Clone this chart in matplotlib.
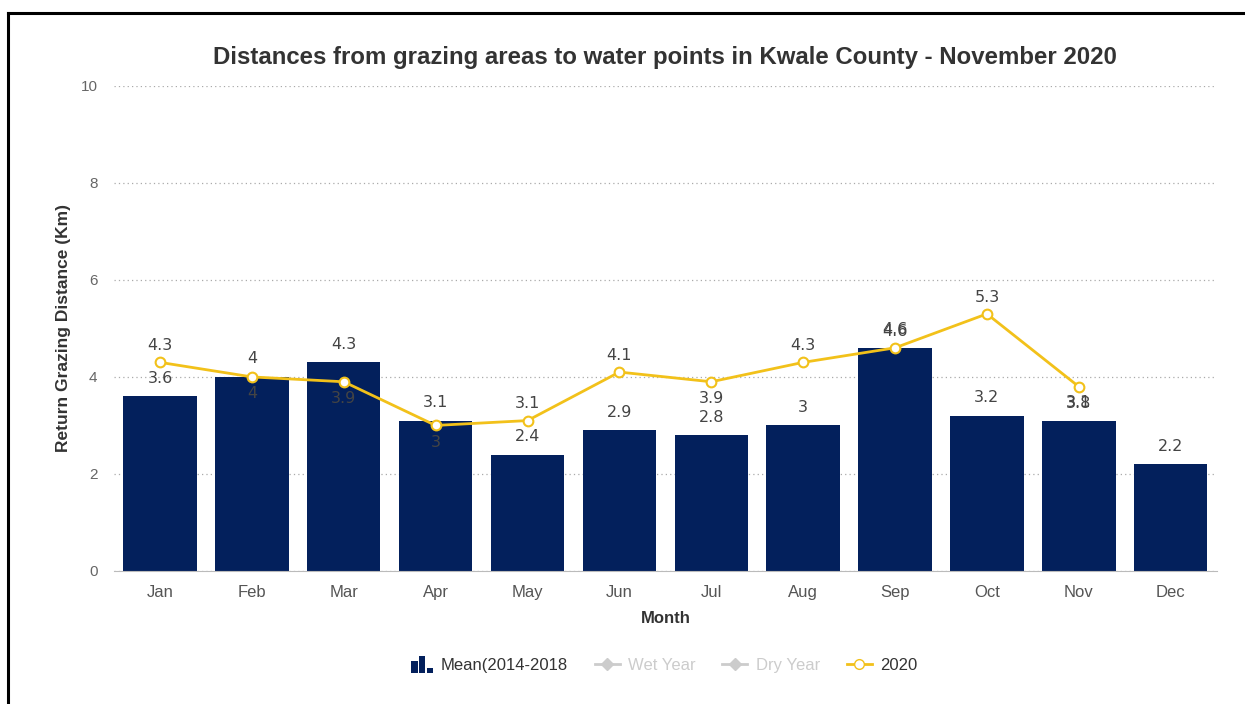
import matplotlib
matplotlib.use("Agg")
import matplotlib.pyplot as plt
from matplotlib.lines import Line2D
from matplotlib.patches import Patch, Rectangle
from matplotlib.legend_handler import HandlerBase
import numpy as np

plt.rcParams['font.family'] = ['Liberation Sans', 'DejaVu Sans']

months = ['Jan', 'Feb', 'Mar', 'Apr', 'May', 'Jun', 'Jul', 'Aug', 'Sep', 'Oct', 'Nov', 'Dec']
mean_2014_2018 = [3.6, 4, 4.3, 3.1, 2.4, 2.9, 2.8, 3, 4.6, 3.2, 3.1, 2.2]
wet_year = []
dry_year = []
y2020 = [4.3, 4, 3.9, 3, 3.1, 4.1, 3.9, 4.3, 4.6, 5.3, 3.8]
y2020_labels = ['4.3', '4', '3.9', '3', '3.1', '4.1', '3.9', '4.3', '4.6', '5.3', '3.8']

# where the 2020 labels sit relative to the point (+ above, - below)
y2020_label_side = [1, -1, -1, -1, 1, 1, -1, 1, 1, 1, -1]

bar_color = '#03205c'
line_color = '#f2c11a'
text_color = '#333333'


class BarIconHandler(HandlerBase):
    # little column-chart icon like the one in the legend
    def create_artists(self, legend, orig_handle, xdescent, ydescent, width, height,
                       fontsize, trans):
        arts = []
        w = width / 4.0
        for k, h in enumerate([0.8, 1.15, 0.35]):
            r = Rectangle((-xdescent + width * 0.15 + k * w * 1.25, -ydescent - 2), w,
                          (height + 2) * h, facecolor=orig_handle.get_facecolor(),
                          edgecolor='none', transform=trans)
            arts.append(r)
        return arts


fig = plt.figure(figsize=(12.45, 7.04), dpi=100)
ax = fig.add_axes([0.0916, 0.189, 0.8856, 0.689])

x = np.arange(len(months))
ax.bar(x, mean_2014_2018, width=0.8, color=bar_color, zorder=2)
x20 = np.arange(len(y2020))
ax.plot(x20, y2020, color=line_color, lw=2, marker='o', markersize=7,
        markerfacecolor='white', markeredgecolor=line_color, markeredgewidth=1.5, zorder=4)

# data labels
for i, v in enumerate(mean_2014_2018):
    ax.annotate('%g' % v, (i, v), xytext=(0, 13), textcoords='offset points',
                ha='center', va='center', fontsize=11.5, color='#444444',
                family='DejaVu Sans', zorder=5)
for i, v in enumerate(y2020):
    off = 12 if y2020_label_side[i] > 0 else -12
    ax.annotate(y2020_labels[i], (i, v), xytext=(0, off), textcoords='offset points',
                ha='center', va='center', fontsize=11.5, color='#444444',
                family='DejaVu Sans', zorder=5)

ax.set_xlim(-0.5, len(months) - 0.5)
ax.set_ylim(0, 10)
ax.set_yticks([0, 2, 4, 6, 8, 10])
ax.set_xticks(x)
ax.set_xticklabels(months)
ax.yaxis.grid(True, linestyle=(0, (1, 2.5)), color='#aaaaaa', lw=0.9)
ax.set_axisbelow(True)
for s in ['top', 'right', 'left']:
    ax.spines[s].set_visible(False)
ax.spines['bottom'].set_color('#bbbbbb')
ax.tick_params(axis='y', length=0, pad=12, labelsize=11, labelcolor='#666666')
ax.tick_params(axis='x', length=0, pad=10, labelsize=12, labelcolor='#555555')

ax.set_xlabel('Month', fontsize=12, fontweight='bold', color=text_color, labelpad=8)
ax.set_ylabel('Return Grazing Distance (Km)', fontsize=12.5, fontweight='bold',
              color=text_color, labelpad=7)
ax.set_title('Distances from grazing areas to water points in Kwale County - November 2020',
             fontsize=17.3, fontweight='bold', color=text_color, pad=16)

bar_handle = Patch(facecolor=bar_color, edgecolor=bar_color)
handles = [
    bar_handle,
    Line2D([], [], color='#cccccc', marker='D', markersize=6, lw=2),
    Line2D([], [], color='#cccccc', marker='D', markersize=6, lw=2),
    Line2D([], [], color=line_color, marker='o', markersize=7, lw=2,
           markerfacecolor='white', markeredgecolor=line_color),
]
leg = fig.legend(handles, ['Mean(2014-2018', 'Wet Year', 'Dry Year', '2020'],
                 loc='center', bbox_to_anchor=(0.532, 0.055), ncol=4, frameon=False,
                 fontsize=12, handlelength=1.5, columnspacing=1.6, handletextpad=0.5,
                 handler_map={bar_handle: BarIconHandler()})
for t, c in zip(leg.get_texts(), [text_color, '#cccccc', '#cccccc', text_color]):
    t.set_color(c)

# frame lines of the screenshot
fig.add_artist(Line2D([8 / 1245, 1], [1 - 13 / 704, 1 - 13 / 704], color='black', lw=2.2,
                      transform=fig.transFigure))
fig.add_artist(Line2D([8 / 1245, 8 / 1245], [0, 1 - 13 / 704], color='black', lw=2.2,
                      transform=fig.transFigure))

fig.savefig('out.png', dpi=100)
